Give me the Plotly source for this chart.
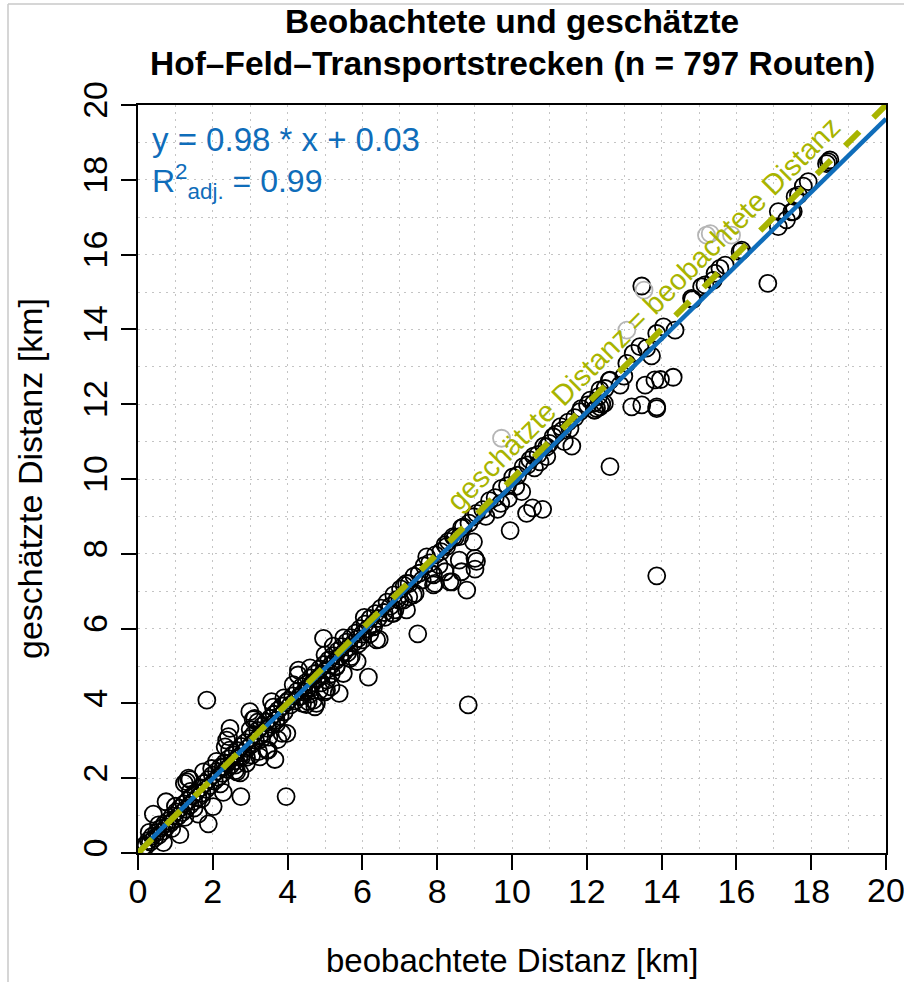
import plotly.graph_objects as go

# ---------------- data ----------------
# observed (x) and estimated (y) distances, read off the reference
obs_low = [0.41, 0.75, 0.68, 1.12, 1.88, 2.75, 3.96, 2.28, 2.01, 1.61, 1.35, 1.24, 1.75, 1.97, 2.46,
           2.37, 2.33, 2.99, 3.08, 3.57, 3.66, 3.98, 3.85, 3.74, 3.48, 3.26, 3.04, 2.77, 2.64, 2.73,
           2.28, 1.84, 1.30, 1.39, 2.42, 2.60, 3.12, 3.44, 3.22, 2.90, 1.00, 1.50, 0.90, 2.20, 2.60,
           3.00, 3.30, 1.40, 2.90, 3.50, 0.55, 1.70, 2.10, 3.20, 3.70, 3.90, 2.45, 1.25, 0.30, 3.62]
est_low = [1.04, 1.37, 0.28, 0.49, 0.78, 1.51, 1.51, 1.62, 1.24, 1.04, 2.00, 1.86, 2.17, 2.26, 3.33,
           3.02, 2.84, 3.78, 3.57, 4.05, 2.50, 3.20, 3.20, 3.03, 2.75, 2.57, 2.62, 2.57, 2.17, 2.14,
           2.30, 4.09, 1.91, 1.96, 3.11, 2.20, 3.60, 2.75, 2.71, 2.56, 1.25, 1.20, 0.65, 1.85, 2.35,
           3.30, 3.05, 1.65, 2.40, 3.10, 0.75, 1.45, 2.45, 3.50, 3.45, 4.15, 2.75, 0.95, 0.55, 3.90]

obs_band_a = [0.15, 0.22, 0.28, 0.33, 0.38, 0.44, 0.50, 0.55, 0.60, 0.66, 0.71, 0.76, 0.81, 0.86, 0.92,
              0.97, 1.02, 1.07, 1.12, 1.18, 1.23, 1.28, 1.33, 1.39, 1.44, 1.49, 1.55, 1.60, 1.66, 1.71,
              1.77, 1.82, 1.88, 1.93, 1.99, 2.04, 2.10, 2.15, 2.21, 2.26, 2.32, 2.37, 2.43, 2.48, 2.54,
              2.59, 2.65, 2.70, 2.76, 2.81, 2.87, 2.92, 2.98, 3.03, 3.09, 3.14, 3.20, 3.25, 3.31, 3.36,
              3.42, 3.47, 3.53, 3.58, 3.64, 3.69, 3.75, 3.80, 3.86, 3.91, 3.97]
est_band_a = [0.18, 0.20, 0.33, 0.29, 0.45, 0.40, 0.55, 0.47, 0.66, 0.58, 0.78, 0.70, 0.86, 0.79, 0.99,
              0.90, 1.10, 0.98, 1.20, 1.08, 1.31, 1.17, 1.40, 1.28, 1.52, 1.38, 1.62, 1.49, 1.74, 1.60,
              1.86, 1.70, 1.96, 1.80, 2.08, 1.92, 2.18, 2.02, 2.30, 2.13, 2.41, 2.24, 2.52, 2.35, 2.63,
              2.46, 2.74, 2.57, 2.85, 2.68, 2.95, 2.79, 3.06, 2.90, 3.17, 3.01, 3.28, 3.12, 3.39, 3.22,
              3.50, 3.33, 3.60, 3.44, 3.71, 3.55, 3.82, 3.66, 3.93, 3.77, 4.03]

obs_mid = [4.73, 4.55, 4.29, 5.00, 5.17, 6.16, 4.96, 5.38, 5.86, 5.66, 5.16, 6.38, 6.20, 7.48, 8.83,
           5.22, 6.45, 5.89, 5.70, 4.69, 4.51, 4.28, 8.79, 8.97, 9.01, 8.65, 8.34, 8.40, 8.21, 7.94,
           7.85, 7.72, 8.25, 8.60, 9.05, 7.18, 7.10, 7.24, 7.41, 6.87, 6.80, 7.18, 4.77, 4.50, 5.04,
           5.49, 5.30, 5.04, 7.36, 7.90, 7.90, 6.83, 4.33, 4.60, 12.62, 9.95, 10.39, 10.55, 10.82, 10.26,
           9.90, 9.61, 11.60, 8.59, 9.01, 8.21, 8.43, 8.70, 8.97, 10.48, 10.93, 10.75, 12.09, 12.35, 12.49,
           12.20, 4.40, 4.90, 5.30, 5.60, 6.00, 4.15, 4.60, 6.30, 6.60, 7.00, 5.00, 5.50, 4.85, 6.05,
           9.30, 8.05, 9.70, 10.10, 10.60, 11.40, 7.60]
est_mid = [3.91, 4.05, 4.89, 4.31, 4.79, 4.70, 5.74, 4.27, 5.12, 5.20, 4.44, 5.70, 5.86, 5.86, 3.96,
           5.53, 5.71, 5.59, 5.25, 4.09, 4.36, 4.76, 7.03, 8.32, 7.59, 7.52, 7.25, 7.25, 7.52, 7.21,
           7.47, 7.92, 8.19, 8.46, 7.80, 6.50, 6.76, 6.85, 6.94, 6.50, 6.41, 7.21, 4.00, 3.97, 4.35,
           4.80, 4.98, 4.62, 6.90, 7.17, 7.44, 6.41, 4.18, 4.25, 10.33, 8.62, 9.08, 9.23, 9.19, 9.66,
           9.48, 9.19, 10.88, 7.83, 7.88, 8.24, 8.46, 8.72, 8.99, 10.51, 10.60, 10.46, 12.11, 11.93, 12.42,
           11.84, 4.00, 4.55, 5.00, 5.35, 5.70, 4.50, 4.95, 6.05, 6.30, 6.75, 5.30, 5.75, 4.35, 6.30,
           9.00, 7.70, 9.35, 9.80, 10.30, 11.00, 7.30]

obs_band_b = [4.02, 4.08, 4.14, 4.20, 4.26, 4.32, 4.38, 4.44, 4.50, 4.56, 4.62, 4.68, 4.74, 4.80, 4.86,
              4.92, 4.98, 5.04, 5.10, 5.16, 5.22, 5.28, 5.34, 5.40, 5.46, 5.52, 5.58, 5.64, 5.70, 5.76,
              5.82, 5.88, 5.94, 6.00, 6.07, 6.14, 6.21, 6.28, 6.35, 6.42, 6.50, 6.58, 6.66, 6.75, 6.84,
              6.93, 7.02, 7.12, 7.25, 7.38, 7.52, 7.65, 7.80, 7.95, 8.10, 8.30, 8.48, 8.65, 8.85, 9.05,
              9.22, 9.40, 9.55, 9.72, 9.88, 10.02, 10.15, 10.30, 10.42, 10.58, 10.70, 10.85, 11.00, 11.18,
              11.35, 11.50, 11.68, 11.85, 12.02]
est_band_b = [4.08, 3.96, 4.20, 4.07, 4.33, 4.19, 4.45, 4.31, 4.56, 4.43, 4.68, 4.55, 4.80, 4.67, 4.92,
              4.78, 5.04, 4.90, 5.16, 5.02, 5.28, 5.14, 5.40, 5.26, 5.52, 5.38, 5.64, 5.50, 5.76, 5.61,
              5.88, 5.73, 6.00, 5.85, 6.12, 5.99, 6.27, 6.12, 6.40, 6.27, 6.55, 6.43, 6.71, 6.60, 6.90,
              6.78, 7.06, 7.15, 7.20, 7.40, 7.48, 7.68, 7.76, 7.97, 8.06, 8.33, 8.44, 8.69, 8.82, 9.08,
              9.18, 9.42, 9.50, 9.75, 9.82, 10.05, 10.10, 10.33, 10.38, 10.61, 10.66, 10.88, 10.95, 11.20,
              11.30, 11.52, 11.64, 11.88, 11.98]

obs_high = [16.84, 13.87, 13.47, 16.10, 17.12, 17.12, 17.34, 17.52, 17.66, 17.92, 17.79, 18.46, 18.50,
            15.70, 15.56, 15.43, 15.16, 15.07, 14.83, 14.36, 14.05, 13.87, 13.73, 13.42, 13.24, 13.07,
            12.89, 12.62, 12.35, 12.26, 12.40, 11.82, 11.55, 11.30, 11.10, 10.93, 13.20, 13.47, 13.87,
            13.87, 13.56, 13.82, 13.97, 14.31, 13.60, 12.99, 12.60, 12.31, 12.18, 12.47, 12.21, 15.38,
            16.14, 17.48, 17.57, 18.41, 14.80]
est_high = [15.23, 7.41, 15.16, 16.08, 17.15, 16.75, 16.93, 17.15, 17.59, 17.95, 17.83, 18.48, 18.53,
            15.72, 15.63, 15.50, 15.19, 15.14, 14.80, 13.98, 14.07, 13.89, 13.29, 13.54, 13.36, 13.09,
            12.51, 12.64, 12.38, 11.89, 12.00, 11.80, 11.35, 11.40, 11.13, 10.86, 11.93, 11.98, 11.93,
            11.88, 12.51, 12.65, 12.66, 12.72, 13.50, 12.75, 12.63, 12.20, 12.02, 12.02, 11.84, 15.31,
            16.12, 17.14, 17.55, 18.43, 14.83]

# points partly hidden under the diagonal label (drawn grey)
obs_grey = [13.53, 13.07, 15.20, 15.30, 15.87, 9.72]
est_grey = [15.05, 13.98, 16.52, 16.56, 16.52, 11.09]

# fitted regression and identity line
fit_slope = 0.98
fit_intercept = 0.03
line_x = [0, 20]

ticks = [0, 2, 4, 6, 8, 10, 12, 14, 16, 18, 20]
tick_labels = ["0", "2", "4", "6", "8", "10", "12", "14", "16", "18", "20"]

# ---------------- figure ----------------
obs_all = obs_low + obs_band_a + obs_mid + obs_band_b + obs_high
est_all = est_low + est_band_a + est_mid + est_band_b + est_high

BLUE = "#0F6DBA"
OLIVE = "#A8B400"
FONT = "Liberation Sans, Arial, Helvetica, sans-serif"
TICK_SIZE = 34

fig = go.Figure()
fig.add_trace(go.Scatter(
    x=obs_all, y=est_all, mode="markers",
    marker=dict(symbol="circle-open", size=17, color="black", line=dict(width=1.8, color="black")),
    hoverinfo="skip", showlegend=False))
fig.add_trace(go.Scatter(
    x=obs_grey, y=est_grey, mode="markers",
    marker=dict(symbol="circle-open", size=17, color="#b5b5b5", line=dict(width=1.8, color="#b5b5b5")),
    hoverinfo="skip", showlegend=False))
fig.add_trace(go.Scatter(
    x=line_x, y=[fit_slope * v + fit_intercept for v in line_x], mode="lines",
    line=dict(color=BLUE, width=4.5), hoverinfo="skip", showlegend=False))
fig.add_trace(go.Scatter(
    x=line_x, y=line_x, mode="lines",
    line=dict(color=OLIVE, width=6, dash="20px,20px"), hoverinfo="skip", showlegend=False))

GRID = "#c4c4c4"
axis_common = dict(
    range=[0, 20], tickvals=ticks,
    ticks="outside", ticklen=15, tickwidth=2, tickcolor="black",
    showline=True, linecolor="black", linewidth=2, mirror=True,
    showgrid=True, gridcolor=GRID, gridwidth=1, griddash="2px,5px",
    minor=dict(dtick=1, tick0=0, showgrid=True, gridcolor=GRID, gridwidth=1, griddash="2px,5px", ticks=""),
    zeroline=False, tickfont=dict(family=FONT, size=TICK_SIZE, color="black"),
)

# the last x label runs past the page edge (as in the reference), so it is drawn as an annotation
x_ticktext = tick_labels[:-1] + [""]

fig.update_layout(
    width=904, height=982,
    margin=dict(l=138, r=18, t=105, b=129),
    paper_bgcolor="white", plot_bgcolor="white",
    font=dict(family=FONT, color="black"),
    xaxis=dict(**axis_common, ticktext=x_ticktext, ticklabelstandoff=-8),
    yaxis=dict(**axis_common, ticktext=tick_labels, tickangle=-90, ticklabelstandoff=0),
)

annotations = [
    dict(text=tick_labels[-1], xref="x", yref="paper", x=ticks[-1], y=(853 - 890) / 748,
         xanchor="center", yanchor="middle", showarrow=False,
         font=dict(size=TICK_SIZE, family=FONT, color="black")),
    dict(text="<b>Beobachtete und geschätzte</b>", xref="paper", yref="paper", x=0.5, y=(853 - 22) / 748,
         xanchor="center", yanchor="middle", showarrow=False, font=dict(size=33.5, family=FONT)),
    dict(text="<b>Hof–Feld–Transportstrecken (n = 797 Routen)</b>", xref="paper", yref="paper", x=0.5,
         y=(853 - 63) / 748, xanchor="center", yanchor="middle", showarrow=False,
         font=dict(size=33.5, family=FONT)),
    dict(text="beobachtete Distanz [km]", xref="paper", yref="paper", x=0.5, y=(853 - 961) / 748,
         xanchor="center", yanchor="middle", showarrow=False, font=dict(size=33, family=FONT)),
    dict(text="geschätzte Distanz [km]", xref="paper", yref="paper", x=(30 - 138) / 748, y=0.5,
         xanchor="center", yanchor="middle", textangle=-90, showarrow=False, font=dict(size=34, family=FONT)),
    dict(text="y = 0.98 * x + 0.03", xref="paper", yref="paper", x=(150 - 138) / 748, y=(853 - 140) / 748,
         xanchor="left", yanchor="middle", showarrow=False, font=dict(size=33, family=FONT, color=BLUE)),
    dict(text="R<sup>2</sup><sub>adj.</sub> = 0.99", xref="paper", yref="paper", x=(150 - 138) / 748,
         y=(853 - 182) / 748, xanchor="left", yanchor="middle", showarrow=False,
         font=dict(size=32, family=FONT, color=BLUE)),
    dict(text="geschätzte Distanz = beobachtete Distanz", xref="x", yref="y", x=13.5, y=14.42,
         xanchor="center", yanchor="middle", textangle=-45, showarrow=False,
         font=dict(size=29, family=FONT, color=OLIVE)),
]
fig.update_layout(annotations=annotations)

# thin grey frame of the original screenshot (top and left edges)
fig.add_shape(type="line", xref="paper", yref="paper", x0=(8 - 138) / 748, x1=(904 - 138) / 748,
              y0=(853 - 4) / 748, y1=(853 - 4) / 748, line=dict(color="#c8c8c8", width=1.5))
fig.add_shape(type="line", xref="paper", yref="paper", x0=(8 - 138) / 748, x1=(8 - 138) / 748,
              y0=(853 - 4) / 748, y1=(853 - 985) / 748, line=dict(color="#c8c8c8", width=1.5))

fig.write_html("out.html", config={"displayModeBar": False},
               post_script="document.body.style.margin='0px';document.body.style.overflow='hidden';")
